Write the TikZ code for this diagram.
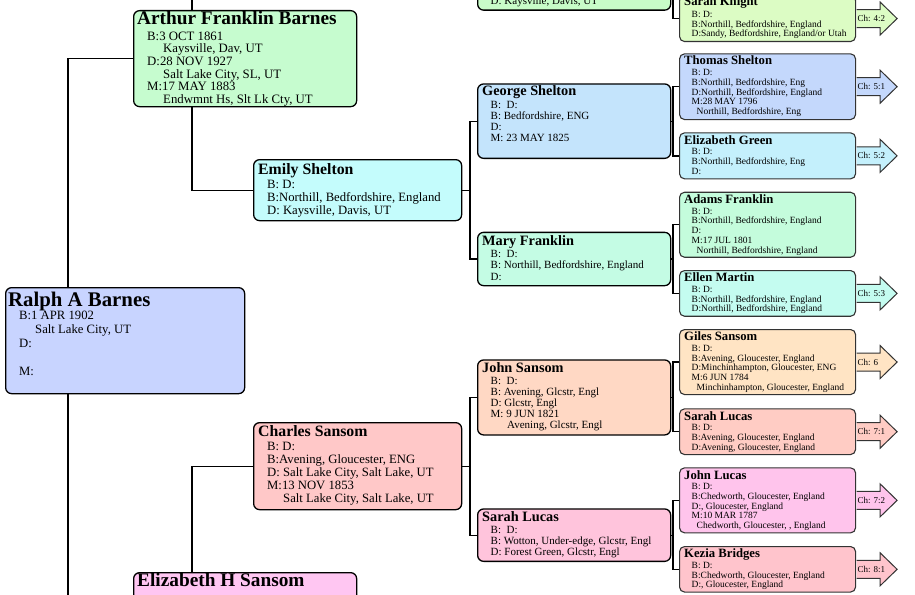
\documentclass[tikz,border=0pt]{standalone}
\usepackage{fontspec}
\setmainfont{Liberation Serif}

\definecolor{ralphC}{HTML}{C8D4FF}
\definecolor{arthurC}{HTML}{C6FCCF}
\definecolor{elizC}{HTML}{FFC6F2}
\definecolor{emilyC}{HTML}{C4FCFC}
\definecolor{charlesC}{HTML}{FFC8C8}
\definecolor{topC}{HTML}{C8FCC8}
\definecolor{georgeC}{HTML}{C4E4FC}
\definecolor{maryC}{HTML}{C4FCE4}
\definecolor{johnC}{HTML}{FFD8C4}
\definecolor{sarahC}{HTML}{FFC4DC}
\definecolor{knightC}{HTML}{DCFCC4}
\definecolor{thomasC}{HTML}{C4D8FC}
\definecolor{egreenC}{HTML}{C4F0FC}
\definecolor{adamsC}{HTML}{C4FCDC}
\definecolor{ellenC}{HTML}{C4FCF0}
\definecolor{gilesC}{HTML}{FFE4C4}
\definecolor{slucasC}{HTML}{FFCCC4}
\definecolor{jlucasC}{HTML}{FFC4EC}
\definecolor{keziaC}{HTML}{FFC4CC}

\begin{document}
\begin{tikzpicture}[x=1pt, y=-1pt,
  pbox/.style={draw=black, line width=1.3pt, rounded corners=6pt, inner sep=0pt, anchor=north west},
  gbox/.style={pbox, draw=black!80, line width=1.1pt, rounded corners=5pt, minimum width=176},
  nm/.style={anchor=base west, inner sep=0pt, font=\bfseries\fontsize{#1}{#1}\selectfont},
  dt/.style 2 args={anchor=north west, inner sep=0pt, align=left, font=\fontsize{#1}{#2}\selectfont},
  conn/.style={line width=1.3pt},
  chArrow/.style={draw=black!80, line width=1pt},
  chLabel/.style={anchor=west, inner sep=0pt, font=\fontsize{9}{9}\selectfont}]

\useasboundingbox (0,0) rectangle (915,594);
\clip (0,0) rectangle (915,594);
\fill[white] (0,0) rectangle (915,594);

% Spines of the connectors
\coordinate (sp1) at (68,0);
\coordinate (sp2) at (192,0);
\coordinate (sp3) at (470,0);
\coordinate (sp4) at (673,0);

% Generation 1
\node[pbox, fill=ralphC, minimum width=239, minimum height=106] (ralph) at (5,287) {};
\node[nm=20.8] (ralphN) at (8,306) {Ralph A Barnes};
\node[dt={12.7}{14}] (ralphD) at (19,311.2) {B:1 APR 1902\\ \hspace*{16pt}Salt Lake City, UT\\ D:\\ \\ M:};

% Generation 2
\node[pbox, fill=arthurC, minimum width=223, minimum height=96] (arthur) at (133,10) {};
\node[nm=19.3] (arthurN) at (137,24.5) {Arthur Franklin Barnes};
\node[dt={12.8}{12.6}] (arthurD) at (147,31.6) {B:3 OCT 1861\\ \hspace*{16pt}Kaysville, Dav, UT\\ D:28 NOV 1927\\ \hspace*{16pt}Salt Lake City, SL, UT\\ M:17 MAY 1883\\ \hspace*{16pt}Endwmnt Hs, Slt Lk Cty, UT};

\node[pbox, fill=elizC, minimum width=223, minimum height=96] (eliz) at (133,572) {};
\node[nm=19.3] (elizN) at (137,586.7) {Elizabeth H Sansom};

\node[pbox, fill=emilyC, minimum width=208, minimum height=61] (emily) at (253,159) {};
\node[nm=15.8] (emilyN) at (258,174) {Emily Shelton};
\node[dt={12.7}{13}] (emilyD) at (267,179.6) {B: D:\\ B:Northill, Bedfordshire, England\\ D: Kaysville, Davis, UT};

\node[pbox, fill=charlesC, minimum width=208, minimum height=87] (charles) at (253,422) {};
\node[nm=15.8] (charlesN) at (258,436.7) {Charles Sansom};
\node[dt={12.7}{13}] (charlesD) at (267,441.6) {B: D:\\ B:Avening, Gloucester, ENG\\ D: Salt Lake City, Salt Lake, UT\\ M:13 NOV 1853\\ \hspace*{16pt}Salt Lake City, Salt Lake, UT};

% Generation 3
\node[pbox, fill=topC, minimum width=193, minimum height=53.5] (gmBarnes) at (477,-44) {};
\node[dt={11}{11}] (gmBarnesD) at (490.5,-3.5) {D: Kaysville, Davis, UT};

\node[pbox, fill=georgeC, minimum width=193, minimum height=74.4] (george) at (477,83.3) {};
\node[nm=14.3] (georgeN) at (482,95.5) {George Shelton};
\node[dt={11}{11}] (georgeD) at (490.5,101.4) {B:~~D:\\ B: Bedfordshire, ENG\\ D:\\ M: 23 MAY 1825};

\node[pbox, fill=maryC, minimum width=193, minimum height=53.3] (mary) at (477,231.7) {};
\node[nm=14.3] (maryN) at (482,245) {Mary Franklin};
\node[dt={11}{11.5}] (maryD) at (490.5,249.7) {B:~~D:\\ B: Northill, Bedfordshire, England\\ D:};

\node[pbox, fill=johnC, minimum width=193, minimum height=75] (john) at (477,359.3) {};
\node[nm=14.3] (johnN) at (482,372.3) {John Sansom};
\node[dt={11}{11}] (johnD) at (490.5,377) {B:~~D:\\ B: Avening, Glcstr, Engl\\ D: Glcstr, Engl\\ M: 9 JUN 1821\\ \hspace*{16.5pt}Avening, Glcstr, Engl};

\node[pbox, fill=sarahC, minimum width=193, minimum height=52.4] (sarah) at (477,508.3) {};
\node[nm=14.3] (sarahN) at (482,521.7) {Sarah Lucas};
\node[dt={11}{11}] (sarahD) at (490.5,525.6) {B:~~D:\\ B: Wotton, Under-edge, Glcstr, Engl\\ D: Forest Green, Glcstr, Engl};

% Generation 4
\node[gbox, fill=knightC, minimum height=46] (knight) at (679,-5) {};
\node[nm=12.7] (knightN) at (684,6) {Sarah Knight};
\node[dt={9.5}{9.75}] (knightD) at (691.5,11) {B: D:\\ B:Northill, Bedfordshire, England\\ D:Sandy, Bedfordshire, England/or Utah};

\node[gbox, fill=thomasC, minimum height=65.7] (thomas) at (679,53.3) {};
\node[nm=12.7] (thomasN) at (684,65) {Thomas Shelton};
\node[dt={9.5}{9.75}] (thomasD) at (691.5,69.3) {B: D:\\ B:Northill, Bedfordshire, Eng\\ D:Northill, Bedfordshire, England\\ M:28 MAY 1796\\ \hspace*{5pt}Northill, Bedfordshire, Eng};

\node[gbox, fill=egreenC, minimum height=46] (egreen) at (679,132.3) {};
\node[nm=12.7] (egreenN) at (684,144) {Elizabeth Green};
\node[dt={9.5}{9.75}] (egreenD) at (691.5,148.3) {B: D:\\ B:Northill, Bedfordshire, Eng\\ D:};

\node[gbox, fill=adamsC, minimum height=65] (adams) at (679,191.7) {};
\node[nm=12.7] (adamsN) at (684,203.4) {Adams Franklin};
\node[dt={9.5}{9.75}] (adamsD) at (691.5,207.7) {B: D:\\ B:Northill, Bedfordshire, England\\ D:\\ M:17 JUL 1801\\ \hspace*{5pt}Northill, Bedfordshire, England};

\node[gbox, fill=ellenC, minimum height=45.7] (ellen) at (679,270) {};
\node[nm=12.7] (ellenN) at (684,281.7) {Ellen Martin};
\node[dt={9.5}{9.75}] (ellenD) at (691.5,286) {B: D:\\ B:Northill, Bedfordshire, England\\ D:Northill, Bedfordshire, England};

\node[gbox, fill=gilesC, minimum height=65] (giles) at (679,329) {};
\node[nm=12.7] (gilesN) at (684,340.7) {Giles Sansom};
\node[dt={9.5}{9.75}] (gilesD) at (691.5,345) {B: D:\\ B:Avening, Gloucester, England\\ D:Minchinhampton, Gloucester, ENG\\ M:6 JUN 1784\\ \hspace*{5pt}Minchinhampton, Gloucester, England};

\node[gbox, fill=slucasC, minimum height=45.7] (slucas) at (679,408.3) {};
\node[nm=12.7] (slucasN) at (684,420) {Sarah Lucas};
\node[dt={9.5}{9.75}] (slucasD) at (691.5,424.3) {B: D:\\ B:Avening, Gloucester, England\\ D:Avening, Gloucester, England};

\node[gbox, fill=jlucasC, minimum height=65] (jlucas) at (679,467.3) {};
\node[nm=12.7] (jlucasN) at (684,479) {John Lucas};
\node[dt={9.5}{9.75}] (jlucasD) at (691.5,483.3) {B: D:\\ B:Chedworth, Gloucester, England\\ D:, Gloucester, England\\ M:10 MAR 1787\\ \hspace*{5pt}Chedworth, Gloucester, , England};

\node[gbox, fill=keziaC, minimum height=45.5] (kezia) at (679,546) {};
\node[nm=12.7] (keziaN) at (684,557.7) {Kezia Bridges};
\node[dt={9.5}{9.75}] (keziaD) at (691.5,562) {B: D:\\ B:Chedworth, Gloucester, England\\ D:, Gloucester, England};

% Continuation arrows
\draw[chArrow, fill=knightC] ([xshift=0.6pt]knight.east) ++(0,-9) -- ++(23.4,0) -- ++(0,-7.5) -- ++(17,16.5) -- ++(-17,16.5) -- ++(0,-7.5) -- ++(-23.4,0);
\node[chLabel] (knightCh) at ([xshift=1.2pt]knight.east) {Ch: 4:2};
\draw[chArrow, fill=thomasC] ([xshift=0.6pt]thomas.east) ++(0,-9) -- ++(23.4,0) -- ++(0,-7.5) -- ++(17,16.5) -- ++(-17,16.5) -- ++(0,-7.5) -- ++(-23.4,0);
\node[chLabel] (thomasCh) at ([xshift=1.2pt]thomas.east) {Ch: 5:1};
\draw[chArrow, fill=egreenC] ([xshift=0.6pt]egreen.east) ++(0,-9) -- ++(23.4,0) -- ++(0,-7.5) -- ++(17,16.5) -- ++(-17,16.5) -- ++(0,-7.5) -- ++(-23.4,0);
\node[chLabel] (egreenCh) at ([xshift=1.2pt]egreen.east) {Ch: 5:2};
\draw[chArrow, fill=ellenC] ([xshift=0.6pt]ellen.east) ++(0,-9) -- ++(23.4,0) -- ++(0,-7.5) -- ++(17,16.5) -- ++(-17,16.5) -- ++(0,-7.5) -- ++(-23.4,0);
\node[chLabel] (ellenCh) at ([xshift=1.2pt]ellen.east) {Ch: 5:3};
\draw[chArrow, fill=gilesC] ([xshift=0.6pt]giles.east) ++(0,-9) -- ++(23.4,0) -- ++(0,-7.5) -- ++(17,16.5) -- ++(-17,16.5) -- ++(0,-7.5) -- ++(-23.4,0);
\node[chLabel] (gilesCh) at ([xshift=1.2pt]giles.east) {Ch: 6};
\draw[chArrow, fill=slucasC] ([xshift=0.6pt]slucas.east) ++(0,-9) -- ++(23.4,0) -- ++(0,-7.5) -- ++(17,16.5) -- ++(-17,16.5) -- ++(0,-7.5) -- ++(-23.4,0);
\node[chLabel] (slucasCh) at ([xshift=1.2pt]slucas.east) {Ch: 7:1};
\draw[chArrow, fill=jlucasC] ([xshift=0.6pt]jlucas.east) ++(0,-9) -- ++(23.4,0) -- ++(0,-7.5) -- ++(17,16.5) -- ++(-17,16.5) -- ++(0,-7.5) -- ++(-23.4,0);
\node[chLabel] (jlucasCh) at ([xshift=1.2pt]jlucas.east) {Ch: 7:2};
\draw[chArrow, fill=keziaC] ([xshift=0.6pt]kezia.east) ++(0,-9) -- ++(23.4,0) -- ++(0,-7.5) -- ++(17,16.5) -- ++(-17,16.5) -- ++(0,-7.5) -- ++(-23.4,0);
\node[chLabel] (keziaCh) at ([xshift=1.2pt]kezia.east) {Ch: 8:1};

% Connectors, generations 1 and 2
\draw[conn] (ralph.north -| sp1) |- (arthur.west);
\draw[conn] (ralph.south -| sp1) |- (eliz.west);
\draw[conn] (arthur.north -| sp2) -- ++(0,-20);
\draw[conn] (arthur.south -| sp2) |- (emily.west);
\draw[conn] (eliz.north -| sp2) |- (charles.west);

% Connectors to generation 3
\draw[conn] (emily.east) -- (emily.east -| sp3);
\draw[conn] (george.west) -- (george.west -| sp3) -- (mary.west -| sp3) -- (mary.west);
\draw[conn] (charles.east) -- (charles.east -| sp3);
\draw[conn] (john.west) -- (john.west -| sp3) -- (sarah.west -| sp3) -- (sarah.west);

% Connectors to generation 4
\draw[conn] (gmBarnes.east) -- (gmBarnes.east -| sp4);
\draw[conn] (knight.west) -- (knight.west -| sp4) -- ++(0,-60);
\draw[conn] (george.east) -- (george.east -| sp4);
\draw[conn] (thomas.west) -- (thomas.west -| sp4) -- (egreen.west -| sp4) -- (egreen.west);
\draw[conn] (mary.east) -- (mary.east -| sp4);
\draw[conn] (adams.west) -- (adams.west -| sp4) -- (ellen.west -| sp4) -- (ellen.west);
\draw[conn] (john.east) -- (john.east -| sp4);
\draw[conn] (giles.west) -- (giles.west -| sp4) -- (slucas.west -| sp4) -- (slucas.west);
\draw[conn] (sarah.east) -- (sarah.east -| sp4);
\draw[conn] (jlucas.west) -- (jlucas.west -| sp4) -- (kezia.west -| sp4) -- (kezia.west);

\end{tikzpicture}
\end{document}
